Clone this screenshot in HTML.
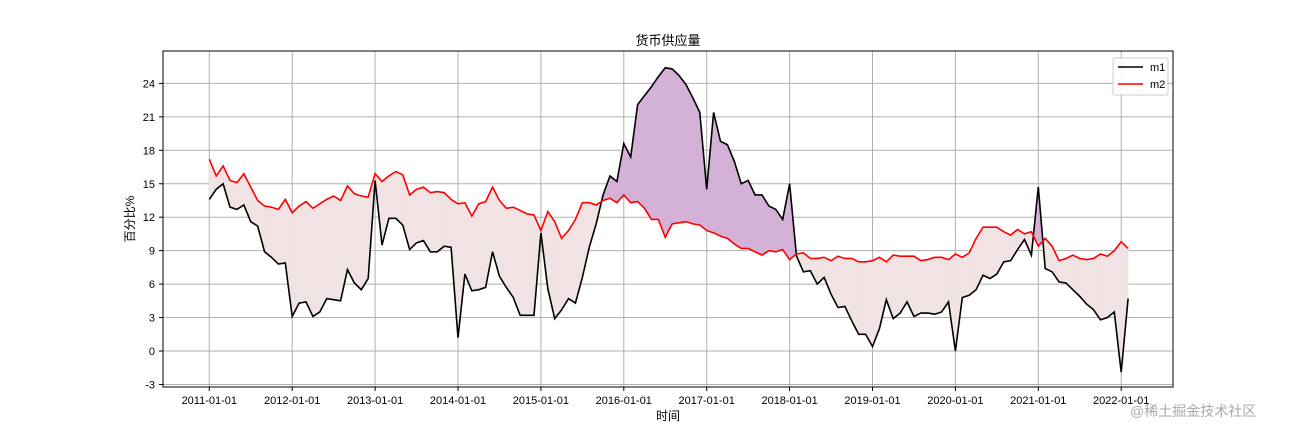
<!DOCTYPE html>
<html><head><meta charset="utf-8"><style>
body{margin:0;background:#fff;}
svg text{font-family:"Liberation Sans","Noto Sans CJK SC",sans-serif;}
</style></head><body>
<svg id="chart" width="1304" height="435" xmlns="http://www.w3.org/2000/svg">
<rect width="1304" height="435" fill="#fff"/>
<g id="grid"></g>
<g id="fills"></g>
<g id="lines"></g>
<rect x="163" y="51" width="1010" height="336" fill="none" stroke="#000" stroke-width="1"/>
<g id="xticks"></g>
<g id="yticks"></g>
<text x="668" y="45" font-size="13" text-anchor="middle">货币供应量</text>
<text x="668" y="420" font-size="12" text-anchor="middle">时间</text>
<text x="0" y="0" font-size="12" text-anchor="middle" transform="translate(134,219) rotate(-90)">百分比%</text>
<g>
<rect x="1113" y="58" width="55" height="37" rx="2" fill="#fff" fill-opacity="0.85" stroke="#ccc"/>
<line x1="1118" y1="67" x2="1143" y2="67" stroke="#000" stroke-width="1.6"/>
<text x="1150" y="71" font-size="11">m1</text>
<line x1="1118" y1="84" x2="1143" y2="84" stroke="#f00" stroke-width="1.6"/>
<text x="1150" y="88" font-size="11">m2</text>
</g>
<text x="1130" y="416" font-size="14" fill="#aaa">@稀土掘金技术社区</text>
</svg>
<script>
const startYear = 2011;
const tickLabels = ["2011-01-01","2012-01-01","2013-01-01","2014-01-01","2015-01-01","2016-01-01","2017-01-01","2018-01-01","2019-01-01","2020-01-01","2021-01-01","2022-01-01"];
const yTicks = [-3,0,3,6,9,12,15,18,21,24];
const m1 = [13.6,14.5,15.0,12.9,12.7,13.1,11.6,11.2,8.9,8.4,7.8,7.9,
3.1,4.3,4.4,3.1,3.5,4.7,4.6,4.5,7.3,6.1,5.5,6.5,
15.3,9.5,11.9,11.9,11.3,9.1,9.7,9.9,8.9,8.9,9.4,9.3,
1.2,6.9,5.4,5.5,5.7,8.9,6.7,5.7,4.8,3.2,3.2,3.2,
10.6,5.6,2.9,3.7,4.7,4.3,6.6,9.3,11.4,14.0,15.7,15.2,
18.6,17.4,22.1,22.9,23.7,24.6,25.4,25.3,24.7,23.9,22.7,21.4,
14.5,21.4,18.8,18.5,17.0,15.0,15.3,14.0,14.0,13.0,12.7,11.8,
15.0,8.5,7.1,7.2,6.0,6.6,5.1,3.9,4.0,2.7,1.5,1.5,
0.4,2.0,4.6,2.9,3.4,4.4,3.1,3.4,3.4,3.3,3.5,4.4,
0.0,4.8,5.0,5.5,6.8,6.5,6.9,8.0,8.1,9.1,10.0,8.6,
14.7,7.4,7.1,6.2,6.1,5.5,4.9,4.2,3.7,2.8,3.0,3.5,
-1.9,4.7];
const m2 = [17.2,15.7,16.6,15.3,15.1,15.9,14.7,13.5,13.0,12.9,12.7,13.6,
12.4,13.0,13.4,12.8,13.2,13.6,13.9,13.5,14.8,14.1,13.9,13.8,
15.9,15.2,15.7,16.1,15.8,14.0,14.5,14.7,14.2,14.3,14.2,13.6,
13.2,13.3,12.1,13.2,13.4,14.7,13.5,12.8,12.9,12.6,12.3,12.2,
10.8,12.5,11.6,10.1,10.8,11.8,13.3,13.3,13.1,13.5,13.7,13.3,
14.0,13.3,13.4,12.8,11.8,11.8,10.2,11.4,11.5,11.6,11.4,11.3,
10.8,10.6,10.3,10.1,9.6,9.2,9.2,8.9,8.6,9.0,8.9,9.1,
8.2,8.7,8.8,8.3,8.3,8.4,8.1,8.5,8.3,8.3,8.0,8.0,
8.1,8.4,8.0,8.6,8.5,8.5,8.5,8.1,8.2,8.4,8.4,8.2,
8.7,8.4,8.8,10.1,11.1,11.1,11.1,10.7,10.4,10.9,10.5,10.7,
9.4,10.1,9.4,8.1,8.3,8.6,8.3,8.2,8.3,8.7,8.5,9.0,
9.8,9.2];
const NS="http://www.w3.org/2000/svg";
const X0=209.3, PXY=82.9, Y0=351, PXU=11.15;
function xs(i){return X0+PXY*(i/12);}
function ys(v){return Y0-v*PXU;}
function mk(tag,attrs,parent){const e=document.createElementNS(NS,tag);for(const k in attrs)e.setAttribute(k,attrs[k]);parent.appendChild(e);return e;}
const grid=document.getElementById('grid'),xt=document.getElementById('xticks'),yt=document.getElementById('yticks');
tickLabels.forEach((t,k)=>{const x=X0+PXY*k;
 const gl=mk('line',{x1:x,y1:51,x2:x,y2:387,stroke:'#b0b0b0','stroke-width':1},grid);
 
 
 const tk=mk('line',{x1:x,y1:387,x2:x,y2:391,stroke:'#000'},xt);
 
 
 const tx=mk('text',{x:x,y:404,'font-size':11,'text-anchor':'middle'},xt);tx.textContent=t;
 
 
});
yTicks.forEach(v=>{const y=ys(v);
 const gl=mk('line',{x1:163,y1:y,x2:1173,y2:y,stroke:'#b0b0b0','stroke-width':1},grid);
 
 
 const tk=mk('line',{x1:159,y1:y,x2:163,y2:y,stroke:'#000'},yt);
 
 
 const tx=mk('text',{x:155,y:y+4,'font-size':11,'text-anchor':'end'},yt);tx.textContent=v;
 
 
});
const fills=document.getElementById('fills');
for(let i=0;i<m1.length-1;i++){
 const a1=m1[i],b1=m1[i+1],a2=m2[i],b2=m2[i+1];
 const d0=a1-a2,d1=b1-b2;
 const segs=[];
 if(d0*d1<0){const t=d0/(d0-d1);const xm=i+t, vm=a1+(b1-a1)*t;
  segs.push([[i,a1],[xm,vm],[i,a2]],[[xm,vm],[i+1,b1],[i+1,b2]]);
 } else segs.push([[i,a1],[i+1,b1],[i+1,b2],[i,a2]]);
 segs.forEach(s=>{
  const up = s.length===4 ? (d0+d1>0) : (s[0][0]===i ? d0>0 : d1>0);
  const p=mk('polygon',{points:s.map(q=>xs(q[0])+','+ys(q[1])).join(' '),fill:up?'#d4b1d6':'#f1e3e3',stroke:up?'#d4b1d6':'#f1e3e3','stroke-width':0.6},fills);
  
  
 });
}
const lines=document.getElementById('lines');
const l1=mk('polyline',{points:m1.map((v,i)=>xs(i)+','+ys(v)).join(' '),fill:'none',stroke:'#000','stroke-width':1.6},lines);


const l2=mk('polyline',{points:m2.map((v,i)=>xs(i)+','+ys(v)).join(' '),fill:'none',stroke:'#f00','stroke-width':1.6},lines);


</script>
</body></html>
